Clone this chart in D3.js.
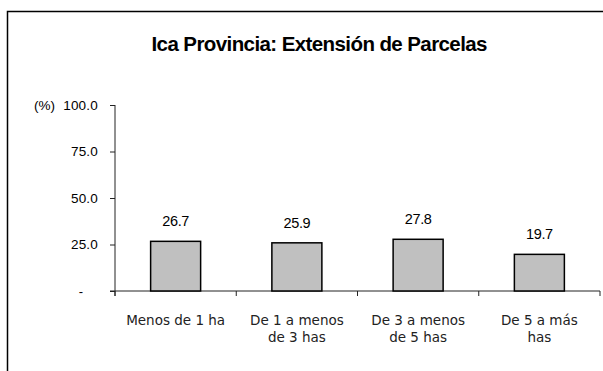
<!DOCTYPE html>
<html>
<head>
<meta charset="utf-8">
<script src="https://cdn.jsdelivr.net/npm/d3@7"></script>
<style>
  html, body { margin: 0; padding: 0; background: #fff; }
  svg { display: block; }
</style>
</head>
<body>
<svg id="chart" width="603" height="371"></svg>
<script>
// Data: share of parcels by size range (%)
const categories = ["Menos de 1 ha", "De 1 a menos\nde 3 has", "De 3 a menos\nde 5 has", "De 5 a más\nhas"];
const values = [26.7, 25.9, 27.8, 19.7];
const yTicks = [0, 25, 50, 75, 100];
const title = "Ica Provincia: Extensión de Parcelas";

const svg = d3.select("#chart");

// Outer frame (only top and left edges fall inside the canvas)
svg.append("rect")
  .attr("x", 7.5).attr("y", 11.5)
  .attr("width", 700).attr("height", 400)
  .attr("fill", "none")
  .attr("stroke", "#000")
  .attr("stroke-width", 1.5);

// Title (tightly spaced bold)
svg.append("text")
  .attr("x", 151.5).attr("y", 51)
  .attr("textLength", 336)
  .attr("lengthAdjust", "spacing")
  .attr("font-family", "'Liberation Sans', Arial, sans-serif")
  .attr("font-weight", "bold")
  .attr("font-size", 20.5)
  .attr("fill", "#000")
  .text(title);

const plotLeft = 115, plotRight = 600, plotTop = 105, plotBottom = 291;

const y = d3.scaleLinear().domain([0, 100]).range([plotBottom, plotTop]);

// Category segments (for ticks) and bar positions inside them
const seg = d3.scaleBand().domain(categories).range([plotLeft, plotRight]).padding(0);
const x = d3.scaleBand().domain(categories).range([plotLeft, plotRight])
  .paddingInner(0.5876).paddingOuter(0.2938);

const axisColor = "#222";

// Y axis
const yAxis = d3.axisLeft(y)
  .tickValues(yTicks)
  .tickSize(5)
  .tickPadding(12)
  .tickFormat(d => d === 0 ? "" : d3.format(".1f")(d));

const gy = svg.append("g")
  .attr("transform", `translate(${plotLeft},0)`)
  .call(yAxis);
gy.select(".domain").remove();
gy.selectAll(".tick line").attr("stroke", axisColor);
gy.selectAll(".tick text")
  .attr("font-family", "'Liberation Sans', Arial, sans-serif")
  .attr("font-size", 13.5)
  .attr("letter-spacing", 0.2)
  .attr("fill", "#000");
gy.append("line")
  .attr("x1", 0).attr("x2", 0)
  .attr("y1", plotTop).attr("y2", plotBottom + 5)
  .attr("stroke", axisColor);

// Zero label drawn as a dash
svg.append("text")
  .attr("x", 81).attr("y", y(0))
  .attr("dy", "0.35em")
  .attr("text-anchor", "middle")
  .attr("font-family", "'Liberation Sans', Arial, sans-serif")
  .attr("font-size", 13)
  .text("-");

// Unit label
svg.append("text")
  .attr("x", 34).attr("y", 110)
  .attr("font-family", "'Liberation Sans', Arial, sans-serif")
  .attr("font-size", 13.5)
  .text("(%)");

// X axis line and category boundary ticks
svg.append("line")
  .attr("x1", plotLeft - 5).attr("x2", plotRight)
  .attr("y1", y(0)).attr("y2", y(0))
  .attr("stroke", axisColor);

const bounds = categories.map(c => seg(c)).concat([plotRight]);
svg.append("g").selectAll("line")
  .data(bounds)
  .join("line")
  .attr("x1", d => d).attr("x2", d => d)
  .attr("y1", y(0)).attr("y2", y(0) + 5)
  .attr("stroke", axisColor);

// Bars
svg.append("g").selectAll("rect")
  .data(values)
  .join("rect")
  .attr("x", (d, i) => x(categories[i]))
  .attr("y", d => y(d))
  .attr("width", x.bandwidth())
  .attr("height", d => y(0) - y(d))
  .attr("fill", "#c0c0c0")
  .attr("stroke", "#000")
  .attr("stroke-width", 1.5);

// Value labels
svg.append("g").selectAll("text")
  .data(values)
  .join("text")
  .attr("x", (d, i) => x(categories[i]) + x.bandwidth() / 2)
  .attr("y", d => y(d) - 15)
  .attr("text-anchor", "middle")
  .attr("font-family", "'Liberation Sans', Arial, sans-serif")
  .attr("font-size", 14.5)
  .attr("letter-spacing", -0.4)
  .attr("fill", "#000")
  .text(d => d3.format(".1f")(d));

// Category labels (multi-line)
const catG = svg.append("g").selectAll("text")
  .data(categories)
  .join("text")
  .attr("x", d => seg(d) + seg.bandwidth() / 2)
  .attr("y", 324.5)
  .attr("text-anchor", "middle")
  .attr("font-family", "'DejaVu Sans', Verdana, sans-serif")
  .attr("font-size", 13.5)
  .attr("fill", "#222");
catG.each(function(d) {
  const t = d3.select(this);
  const x0 = +t.attr("x");
  d.split("\n").forEach((line, i) => {
    t.append("tspan")
      .attr("x", x0)
      .attr("dy", i === 0 ? 0 : 17)
      .text(line);
  });
});
</script>
</body>
</html>
